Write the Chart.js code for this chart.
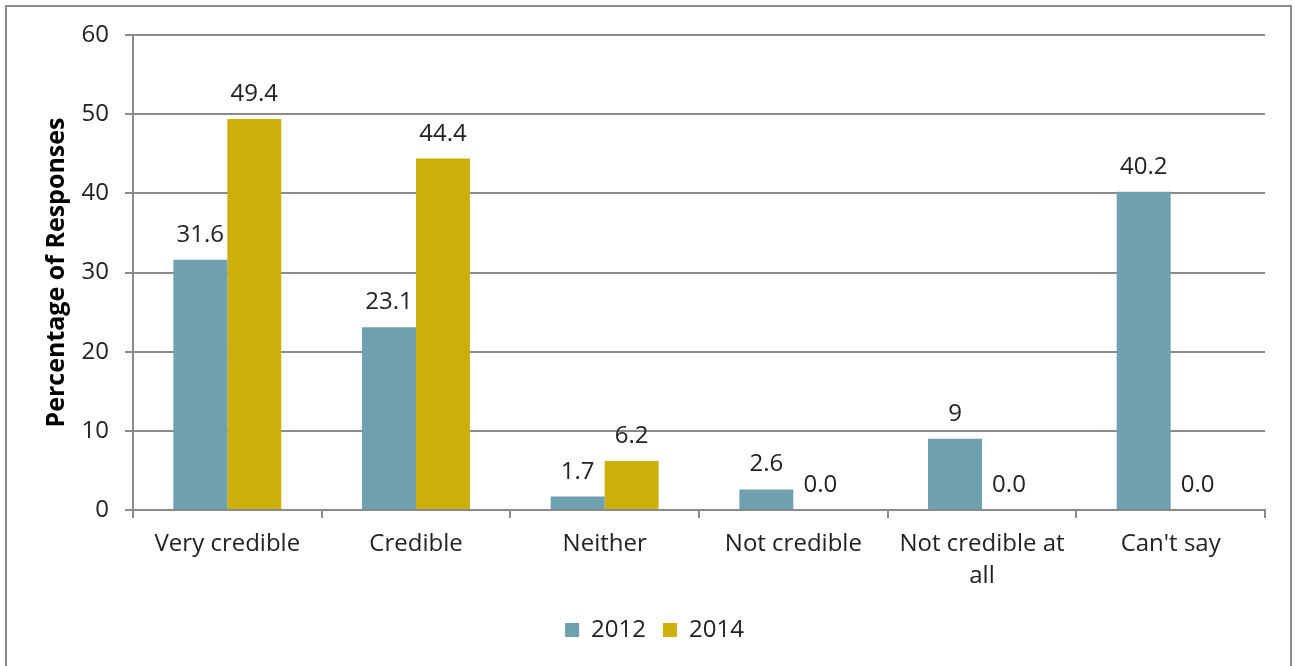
<!DOCTYPE html>
<html>
<head>
<meta charset="utf-8">
<script src="https://cdn.jsdelivr.net/npm/chart.js@4/dist/chart.umd.min.js"></script>
<style>
  html, body { margin: 0; padding: 0; background: #fff; }
  #frame { position: absolute; left: 5px; top: 5px; width: 1287px; height: 670px; border: 2px solid #8a8a8a; box-sizing: border-box; }
  #wrap { position: absolute; left: 0; top: 0; width: 1295px; height: 666px; }
</style>
</head>
<body>
<div id="frame"></div>
<div id="wrap"><canvas id="c" width="1295" height="666"></canvas></div>
<script>
const categories = ['Very credible', 'Credible', 'Neither', 'Not credible', ['Not credible at', 'all'], "Can't say"];
const values2012 = [31.6, 23.1, 1.7, 2.6, 9, 40.2];
const values2014 = [49.4, 44.4, 6.2, 0, 0, 0];
const yTicks = [0, 10, 20, 30, 40, 50, 60];

const FONT = '"Open Sans", "Noto Sans", sans-serif';
const TEXT = '#222222';
const LINE = '#8a8a8a';

// Value labels above each bar
const valueLabels = {
  id: 'valueLabels',
  afterDatasetsDraw(chart) {
    const ctx = chart.ctx;
    ctx.save();
    ctx.font = '24px ' + FONT;
    ctx.fillStyle = TEXT;
    ctx.textAlign = 'center';
    ctx.textBaseline = 'alphabetic';
    chart.data.datasets.forEach((ds, i) => {
      const meta = chart.getDatasetMeta(i);
      meta.data.forEach((bar, j) => {
        const v = ds.data[j];
        ctx.fillText(ds.fmt(v), bar.x, bar.y - 18);
      });
    });
    ctx.restore();
  }
};

new Chart(document.getElementById('c'), {
  type: 'bar',
  data: {
    labels: categories,
    datasets: [
      { label: '2012', data: values2012, backgroundColor: '#6fa0b0', fmt: v => String(v),
        categoryPercentage: 0.572, barPercentage: 1.0 },
      { label: '2014', data: values2014, backgroundColor: '#cbb00c', fmt: v => v.toFixed(1),
        categoryPercentage: 0.572, barPercentage: 1.0 }
    ]
  },
  options: {
    responsive: false,
    animation: false,
    devicePixelRatio: 1,
    layout: { padding: { left: 44, right: 30, top: 35, bottom: 14 } },
    plugins: {
      legend: {
        position: 'bottom',
        labels: {
          boxWidth: 14, boxHeight: 14, padding: 17,
          color: TEXT, font: { family: FONT, size: 24 }
        }
      },
      tooltip: { enabled: false }
    },
    scales: {
      x: {
        grid: { drawOnChartArea: false, drawTicks: true, tickLength: 8, color: LINE, lineWidth: 2 },
        border: { color: LINE, width: 2 },
        ticks: { color: TEXT, font: { family: FONT, size: 24, lineHeight: 1.35 }, padding: 10, maxRotation: 0 },
        afterFit(s) { s.height = 91; }
      },
      y: {
        min: 0, max: 60,
        afterBuildTicks(s) { s.ticks = yTicks.map(v => ({ value: v })); },
        grid: { color: LINE, lineWidth: 2, tickLength: 8 },
        border: { color: LINE, width: 2 },
        ticks: { color: TEXT, font: { family: FONT, size: 24 }, padding: 16 },
        title: {
          display: true, text: 'Percentage of Responses', color: '#000',
          font: { family: FONT, size: 25, weight: 'bold' }, padding: { top: -2, bottom: 0 }
        },
        afterFit(s) { s.width = 89; }
      }
    }
  },
  plugins: [valueLabels]
});
</script>
</body>
</html>
